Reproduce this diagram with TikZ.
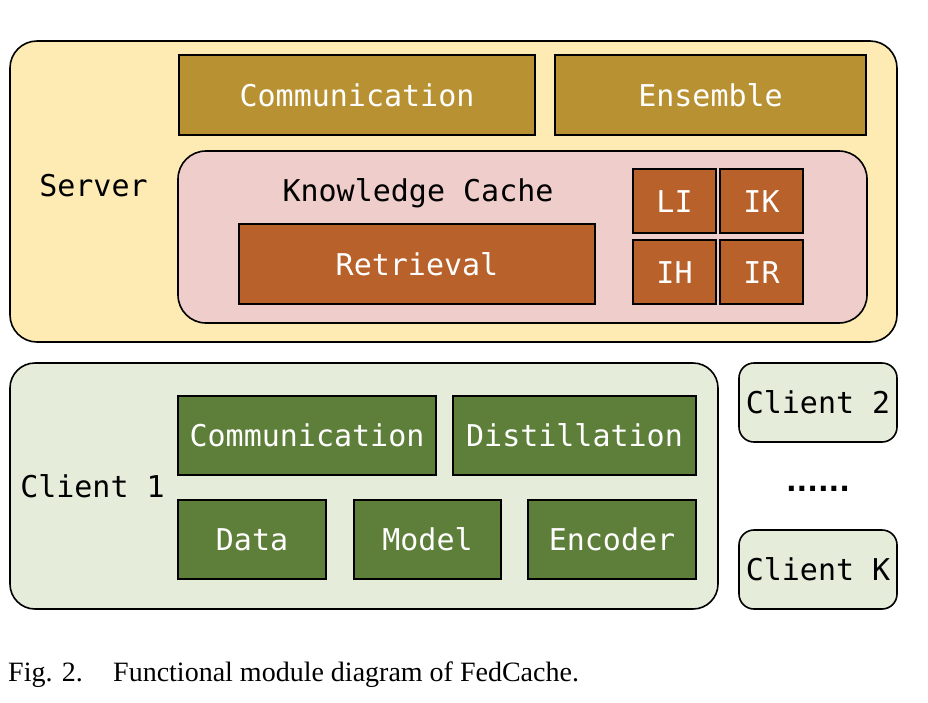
\documentclass[tikz,border=0pt]{standalone}
\usepackage{fontspec}
\setmainfont{Liberation Serif}
\newfontfamily\monofont{DejaVu Sans Mono}
\newfontfamily\dotfont{DejaVu Sans}
\begin{document}
\definecolor{srvfill}{HTML}{FDEBB3}
\definecolor{srvmod}{HTML}{B89132}
\definecolor{kcfill}{HTML}{EECDCB}
\definecolor{kcmod}{HTML}{B8612A}
\definecolor{clfill}{HTML}{E5EDDA}
\definecolor{clmod}{HTML}{5E7F3A}
\begin{tikzpicture}[x=1pt,y=-1pt,
  txt/.style={font=\monofont\fontsize{30}{32}\selectfont, text height=22pt, text depth=0pt, inner sep=0pt},
  outer/.style={draw=black, line width=1.6pt},
]
\useasboundingbox (0,0) rectangle (928,702);
% Server
\path[outer, fill=srvfill, rounded corners=27pt] (10,41) rectangle (897,342);
\node[txt] (server) at (93.5,185) {Server};
\node[draw=black, line width=2pt, fill=srvmod, text=white, txt, minimum width=356pt, minimum height=80pt] (scomm) at (357,95) {Communication};
\node[draw=black, line width=2pt, fill=srvmod, text=white, txt, minimum width=311pt, minimum height=80pt] (ens) at (710.5,95) {Ensemble};
% Knowledge cache
\path[outer, fill=kcfill, rounded corners=28pt] (178,151) rectangle (867,323);
\node[txt] (kc) at (418,190) {Knowledge Cache};
\node[draw=black, line width=2pt, fill=kcmod, text=white, txt, minimum width=356pt, minimum height=80pt] (ret) at (417,264) {Retrieval};
\node[draw=black, line width=2pt, fill=kcmod, text=white, txt, minimum width=83pt, minimum height=64pt] (li) at (674.5,201) {LI};
\node[draw=black, line width=2pt, fill=kcmod, text=white, txt, minimum width=83pt, minimum height=64pt] (ik) at (761.5,201) {IK};
\node[draw=black, line width=2pt, fill=kcmod, text=white, txt, minimum width=83pt, minimum height=64pt] (ih) at (674.5,272) {IH};
\node[draw=black, line width=2pt, fill=kcmod, text=white, txt, minimum width=83pt, minimum height=64pt] (ir) at (761.5,272) {IR};
% Client 1
\path[outer, fill=clfill, rounded corners=25pt] (10,363) rectangle (718,609);
\node[txt] (c1) at (92.5,486) {Client 1};
\node[draw=black, line width=1.6pt, fill=clmod, text=white, txt, minimum width=258pt, minimum height=79pt] (ccomm) at (307,435.5) {Communication};
\node[draw=black, line width=1.6pt, fill=clmod, text=white, txt, minimum width=243pt, minimum height=79pt] (dist) at (574.5,435.5) {Distillation};
\node[draw=black, line width=1.6pt, fill=clmod, text=white, txt, minimum width=148pt, minimum height=79pt] (data) at (252,539.5) {Data};
\node[draw=black, line width=1.6pt, fill=clmod, text=white, txt, minimum width=147pt, minimum height=79pt] (model) at (427.5,539.5) {Model};
\node[draw=black, line width=1.6pt, fill=clmod, text=white, txt, minimum width=168pt, minimum height=79pt] (enc) at (612,539.5) {Encoder};
% Other clients
\node[draw=black, line width=1.6pt, fill=clfill, rounded corners=15pt, txt, minimum width=158pt, minimum height=79pt] (c2) at (818,402.5) {Client 2};
\node[font=\dotfont\bfseries\fontsize{28}{30}\selectfont, anchor=base, inner sep=0pt] (dots) at (818,491) {......};
\node[draw=black, line width=1.6pt, fill=clfill, rounded corners=15pt, txt, minimum width=158pt, minimum height=79pt] (ck) at (818,569.5) {Client K};
% Caption
\node[anchor=base west, inner sep=0pt, font=\fontsize{28}{30}\selectfont] (figlab) at (8,681) {Fig. 2.};
\node[anchor=base west, inner sep=0pt, font=\fontsize{28}{30}\selectfont] (figcap) at (113,681) {Functional module diagram of FedCache.};
\end{tikzpicture}
\end{document}
